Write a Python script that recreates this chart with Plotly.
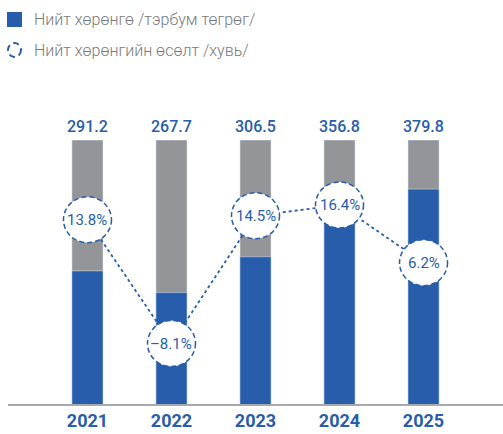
import plotly.graph_objects as go

years = ["2021", "2022", "2023", "2024", "2025"]
assets = [291.2, 267.7, 306.5, 356.8, 379.8]
growth = [13.8, -8.1, 14.5, 16.4, 6.2]
legend_names = ["Нийт хөрөнгө /тэрбум төгрөг/", "Нийт хөрөнгийн өсөлт /хувь/"]

blue = "#275DAA"
grey = "#939598"
font = "Roboto, sans-serif"

# axis ranges picked so the bars/circles sit like in the original
y_range = [147, 433]
y2_range = [-18.8, 27.9]

W, H = 503, 434
ml, mr, mt, mb = 8, 0, 140, 30
pw, ph = W - ml - mr, H - mt - mb


def px(x):
    return (x - ml) / pw


def py(y):
    return (H - mb - y) / ph


xs = list(range(len(years)))

fig = go.Figure()

# grey background bars (full height)
fig.add_trace(go.Bar(x=xs, y=[y_range[1]] * len(years), marker_color=grey,
                     width=0.37, hoverinfo="skip", showlegend=False))
fig.add_trace(go.Bar(x=xs, y=assets, marker_color=blue, width=0.37,
                     name=legend_names[0], showlegend=False))
fig.add_trace(go.Scatter(x=xs, y=growth, yaxis="y2", mode="lines",
                         line=dict(color=blue, width=1.8, dash="dot"),
                         name=legend_names[1], showlegend=False))

shapes = []
annotations = []
for i, (v, g) in enumerate(zip(assets, growth)):
    annotations.append(dict(x=i, y=y_range[1], xref="x", yref="y", text=f"{v:.1f}",
                            showarrow=False, yanchor="bottom", yshift=2,
                            font=dict(family=font, size=16, color=blue, weight=500)))
    shapes.append(dict(type="circle", xref="x", yref="y2", xsizemode="pixel", ysizemode="pixel",
                       xanchor=i, yanchor=g, x0=-24, x1=24, y0=-23, y1=23,
                       fillcolor="white", line=dict(color=blue, width=1.5, dash="5px,3px"),
                       layer="above"))
    annotations.append(dict(x=i, y=g, xref="x", yref="y2",
                            text=f"{g:.1f}%".replace("-", "–"), showarrow=False,
                            font=dict(family=font, size=15, color=blue)))

# custom legend
shapes.append(dict(type="rect", xref="paper", yref="paper", x0=px(7), x1=px(22),
                   y0=py(27), y1=py(12), fillcolor=blue, line=dict(width=0)))
shapes.append(dict(type="circle", xref="paper", yref="paper", x0=px(8), x1=px(21),
                   y0=py(57), y1=py(43), fillcolor="white",
                   line=dict(color=blue, width=2, dash="6px,4px")))
for i, name in enumerate(legend_names):
    annotations.append(dict(x=px(32), y=py(19 + 31 * i), xref="paper", yref="paper",
                            text=name, showarrow=False, xanchor="left", yanchor="middle",
                            font=dict(family=font, size=16, color="#77787b", weight=300)))

fig.update_layout(
    width=W, height=H,
    margin=dict(l=ml, r=mr, t=mt, b=mb),
    barmode="overlay",
    plot_bgcolor="white", paper_bgcolor="white",
    showlegend=False,
    xaxis=dict(range=[-0.946, 4.946], tickvals=xs, ticktext=years, showgrid=False,
               zeroline=False, showline=True, linecolor="#a7a9ac", linewidth=1.5, ticks="",
               tickfont=dict(family=font, size=18, color=blue, weight="bold")),
    yaxis=dict(range=y_range, visible=False),
    yaxis2=dict(range=y2_range, overlaying="y", visible=False),
    shapes=shapes,
    annotations=annotations,
)

fig.write_html("out.html", config={"displayModeBar": False},
               post_script="document.body.style.margin='0';")
